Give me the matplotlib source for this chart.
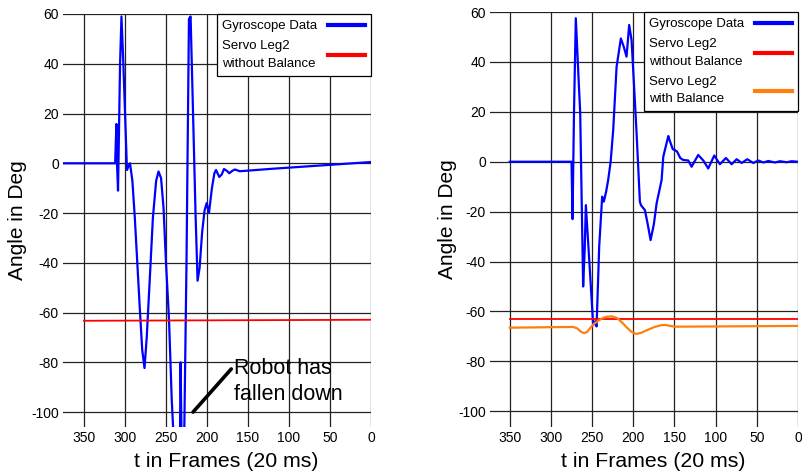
import matplotlib
matplotlib.use("Agg")
import matplotlib.pyplot as plt

plt.rcParams["font.family"] = ["Liberation Sans", "DejaVu Sans"]
plt.rcParams["axes.unicode_minus"] = False

# ---------------------------------------------------------
# Data (frames count down to 0)
# ---------------------------------------------------------
# left panel: robot without balance
gyro_left_t = [375, 340, 312, 310.5, 310, 308.5, 306, 304.3, 302, 297.6, 295.5,
               293.9, 291, 288, 285, 282, 279, 276.2, 273.5, 270, 266, 262,
               259.1, 256, 253, 250, 246.3, 243, 240, 236, 233, 232.2, 231,
               229.8, 227.8, 225, 222, 220, 217, 214, 211.5, 209, 206,
               203, 200.4, 197.6, 194, 191, 189, 185, 182, 179.3, 176,
               172.8, 169, 165.9, 160, 120, 80, 40, 0]
gyro_left_v = [0, 0, 0, 15.8, 2, -11, 40, 59, 40, -2.7, -1,
               0, -7, -22, -40, -58, -75, -82.3, -70, -48, -22, -7,
               -3.3, -6, -18, -40, -63, -95, -115, -115, -112, -80, -112,
               -115, -110, -40, 58, 59, 20, -20, -47.2, -42, -28,
               -19, -16, -20, -10, -4, -2.7, -5.5, -4.5, -2.3, -3,
               -4, -3, -2.5, -3.2, -2.2, -1.3, -0.4, 0.5]
servo_left_t = [350, 0]
servo_left_v = [-63.3, -62.9]

# right panel: robot with balance
gyro_right_t = [350, 300, 275, 273.8, 272, 269.8, 266, 264.5, 260.9, 259,
                257.6, 253, 248.7, 246.5, 244.6, 241.4, 237.8, 235.8, 233,
                230.5, 227.5, 224.4, 220.3, 215.1, 211.5, 208.2, 205,
                202.1, 199, 196, 192, 190.7, 185.9, 182.5, 179, 175,
                171.7, 165.6, 163.6, 157.5, 156, 152, 149.5, 146.7, 143,
                139.4, 133.3, 129.2, 121.2, 115, 109, 101.7, 94.8, 87.5,
                80.6, 74.5, 68.4, 61.6, 54.3, 48.2, 42.1, 36, 28, 21.9,
                13.7, 7.7, 0]
gyro_right_v = [0, 0, 0, -23, 20, 57.5, 30, 20, -50, -35,
                -17.4, -42, -65.5, -64, -66, -34, -14, -16, -12,
                -7.3, 0, 12.7, 38, 49.4, 46, 42.1, 54.8,
                48.7, 30, 11.4, -16, -17.4, -19.4, -25, -31.4, -25,
                -16.7, -7.3, 2, 10.3, 8.7, 5, 4.7, 4, 1.5,
                0.7, 0.5, -2, 2.7, 0.5, -2.7, 2.5, -1, 1.5,
                -1, 1, -0.5, 1, -0.5, 0.5, -0.3, 0.3, -0.3, 0.2,
                -0.2, 0.2, 0]
servo_right_t = [350, 0]
servo_right_v = [-62.9, -62.9]
servo_bal_t = [350, 300, 273, 268, 264, 260, 256, 252, 248, 243, 238, 232,
               226, 220, 214, 208, 202, 196, 190, 182, 174, 166, 161, 155,
               149, 100, 50, 0]
servo_bal_v = [-66.5, -66.3, -66.2, -66.8, -68, -68.7, -68.2, -66.5, -65,
               -63.8, -62.8, -62.1, -62, -62.6, -64.3, -66.4, -68.2, -69,
               -68.5, -67.3, -66.2, -65.5, -65.4, -65.8, -66.1, -66, -65.9,
               -65.8]

x_ticks = [350, 300, 250, 200, 150, 100, 50, 0]
y_ticks = [60, 40, 20, 0, -20, -40, -60, -80, -100]

BLUE = "#0000ff"
RED = "#ff0000"
ORANGE = "#ff7f0e"

fig = plt.figure(figsize=(8.02, 4.74), dpi=100)
W, H = 802, 474


def make_axes(left_px, right_px, top_px, bottom_px):
    return fig.add_axes([left_px / W, 1 - bottom_px / H,
                         (right_px - left_px) / W, (bottom_px - top_px) / H])


def style_axes(ax, xlim, ylim):
    ax.set_xlim(*xlim)
    ax.set_ylim(*ylim)
    ax.set_xticks(x_ticks)
    ax.set_yticks(y_ticks)
    ax.grid(True, color="#222222", linewidth=0.9)
    ax.set_axisbelow(True)
    for s in ax.spines.values():
        s.set_visible(False)
    ax.tick_params(length=0, labelsize=10, pad=3)
    ax.set_xlabel("t in Frames (20 ms)", fontsize=15.3)
    ax.set_ylabel("Angle in Deg", fontsize=15)
    ax.xaxis.set_label_coords(0.53, -0.06)


def add_legend(ax):
    leg = ax.legend(loc="upper right", bbox_to_anchor=(1.0, 1.0),
                    markerfirst=False, fancybox=False, framealpha=1,
                    edgecolor="black", fontsize=9.5, handlelength=2.8,
                    borderaxespad=0, borderpad=0.45, labelspacing=0.62,
                    handletextpad=0.8)
    leg.get_frame().set_linewidth(0.9)
    for line in leg.get_lines():
        line.set_linewidth(3)
    for t in leg.get_texts():
        t.set_linespacing(1.6)
    # left-align the texts while the handles stay on the right
    renderer = fig.canvas.get_renderer()
    rows = leg._legend_handle_box.get_children()[0].get_children()
    widths = [row.get_children()[0].get_bbox(renderer).width for row in rows]
    ppx = renderer.points_to_pixels(1.0)
    for row, w in zip(rows, widths):
        row.sep = row.sep + (max(widths) - w) / ppx
    return leg


# ---------------------------------------------------------
# Left panel
# ---------------------------------------------------------
ax1 = make_axes(63, 371, 14, 427)
ax1.plot(gyro_left_t, gyro_left_v, color=BLUE, lw=1.6,
         label="Gyroscope Data")
ax1.plot(servo_left_t, servo_left_v, color=RED, lw=1.3,
         label="Servo Leg2\nwithout Balance")
style_axes(ax1, (375.6, 0), (-106, 60))
ax1.yaxis.set_label_coords(-0.117, 0.5)
ax1.annotate("Robot has\nfallen down", xy=(217, -100), xytext=(167, -78.4),
             fontsize=15.5, ha="left", va="top", linespacing=1.3,
             arrowprops=dict(arrowstyle="-", lw=2.6, color="black",
                             shrinkA=0, shrinkB=0, relpos=(0, 0.84)))
add_legend(ax1)

# ---------------------------------------------------------
# Right panel
# ---------------------------------------------------------
ax2 = make_axes(490, 798, 12, 427)
ax2.plot(gyro_right_t, gyro_right_v, color=BLUE, lw=1.6,
         label="Gyroscope Data")
ax2.plot(servo_right_t, servo_right_v, color=RED, lw=1.3,
         label="Servo Leg2\nwithout Balance")
ax2.plot(servo_bal_t, servo_bal_v, color=ORANGE, lw=1.6,
         label="Servo Leg2\nwith Balance")
style_axes(ax2, (374, 0), (-106.3, 60))
ax2.yaxis.set_label_coords(-0.107, 0.5)
add_legend(ax2)

fig.savefig("out.png", dpi=100)
